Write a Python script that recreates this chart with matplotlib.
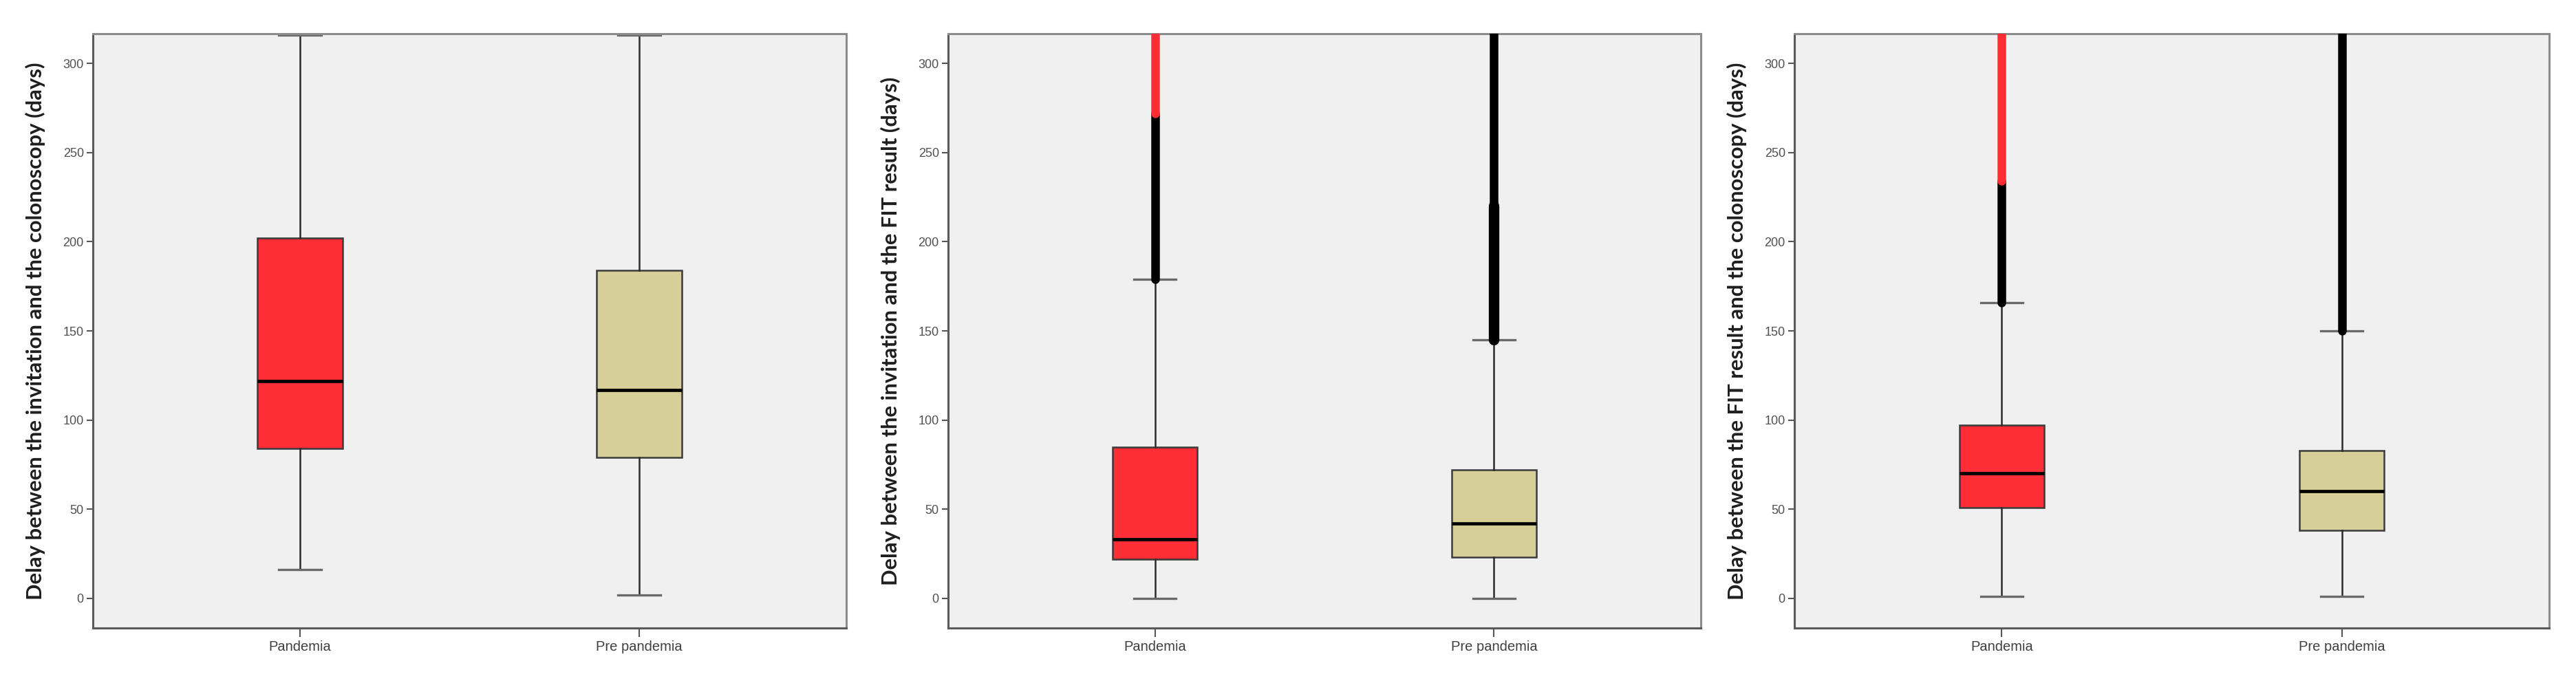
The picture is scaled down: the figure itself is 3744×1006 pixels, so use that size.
import numpy as np
import matplotlib
matplotlib.use('Agg')
import matplotlib.pyplot as plt

# groups on the x axis
categories = ['Pandemia', 'Pre pandemia']
box_colors = ['#ff2d36', '#d6cf98']

ylabels = ['Delay between the invitation and the colonoscopy (days)',
           'Delay between the invitation and the FIT result (days)',
           'Delay between the FIT result and the colonoscopy (days)']

# box plot summaries per panel, one value per category
whisker_low = [[16, 2], [0, 0], [1, 1]]
q1 = [[84, 79], [22, 23], [51, 38]]
median = [[122, 117], [33, 42], [70, 60]]
q3 = [[202, 184], [85, 72], [97, 83]]
whisker_high = [[316, 316], [179, 145], [166, 150]]

# outliers: dense runs of points, given as (category, from, to, colour)
outliers = [
    [],
    [(0, 179, 272, 'black'), (0, 272, 330, '#ff2d36'), (1, 145, 330, 'black'), (1, 145, 220, 'black')],
    [(0, 166, 234, 'black'), (0, 234, 330, '#ff2d36'), (1, 150, 330, 'black')],
]
outlier_extra_width = [[], [0, 0, 0, 2], [0, 0, 0]]

W, H = 3744, 1006
fig = plt.figure(figsize=(W / 100, H / 100), dpi=100)

lefts = [135, 1378, 2608]
widths = [1095, 1094, 1097]
top_px, bottom_px = 49, 913
label_font = ['Lato', 'DejaVu Sans']

axes = []
for k in range(3):
    ax = fig.add_axes([lefts[k] / W, 1 - bottom_px / H, widths[k] / W, (bottom_px - top_px) / H])
    ax.set_facecolor('#f0f0f0')
    axes.append(ax)

    stats = []
    for i in range(2):
        stats.append(dict(whislo=whisker_low[k][i], q1=q1[k][i], med=median[k][i],
                          q3=q3[k][i], whishi=whisker_high[k][i], label=categories[i]))
    bp = ax.bxp(stats, positions=[0, 1], widths=0.25, showfliers=False, patch_artist=True,
                boxprops=dict(edgecolor='#3a3a3a', linewidth=1.8),
                whiskerprops=dict(color='#2a2a2a', linewidth=1.8),
                capprops=dict(color='#6a6a6a', linewidth=2.4),
                medianprops=dict(color='black', linewidth=3.4),
                capwidths=0.125)
    for patch, c in zip(bp['boxes'], box_colors):
        patch.set_facecolor(c)

    for j, (cat, lo, hi, col) in enumerate(outliers[k]):
        lc = ax.vlines(cat, lo, hi, colors=col, linewidth=9 + outlier_extra_width[k][j], zorder=4)
        lc.set_capstyle('round')

    ax.set_xlim(-0.61, 1.61)
    ax.set_ylim(-16.6, 316.6)
    ax.set_yticks([0, 50, 100, 150, 200, 250, 300])
    ax.set_xticks([0, 1])
    ax.set_xticklabels(categories)

    ax.tick_params(axis='y', direction='out', length=6.5, width=1.5, color='#555555',
                   labelsize=13, labelcolor='#505050', pad=3)
    ax.tick_params(axis='x', direction='out', length=9, width=1.5, color='#555555',
                   labelsize=14.5, labelcolor='#404040', pad=4)
    for lab in ax.get_xticklabels() + ax.get_yticklabels():
        lab.set_family(['Liberation Sans', 'DejaVu Sans'])

    for side in ['left', 'bottom']:
        ax.spines[side].set_color('#5a5a5a')
        ax.spines[side].set_linewidth(2.2)
    for side in ['top', 'right']:
        ax.spines[side].set_color('#8c8c8c')
        ax.spines[side].set_linewidth(2.2)

    ax.set_ylabel(ylabels[k], fontsize=22, fontweight='bold', color='#1e1e1e', family=label_font)
    ax.yaxis.label.set_va('center')
    ax.yaxis.set_label_coords(-0.076, 0.5)

# fit the label size so the first label is about 782 px long, like the source
fig.canvas.draw()
r = fig.canvas.get_renderer()
h = axes[0].yaxis.label.get_window_extent(r).height
fs = 22 * 782 / h
for ax in axes:
    ax.yaxis.label.set_fontsize(fs)

plt.savefig('out.png', dpi=100)
